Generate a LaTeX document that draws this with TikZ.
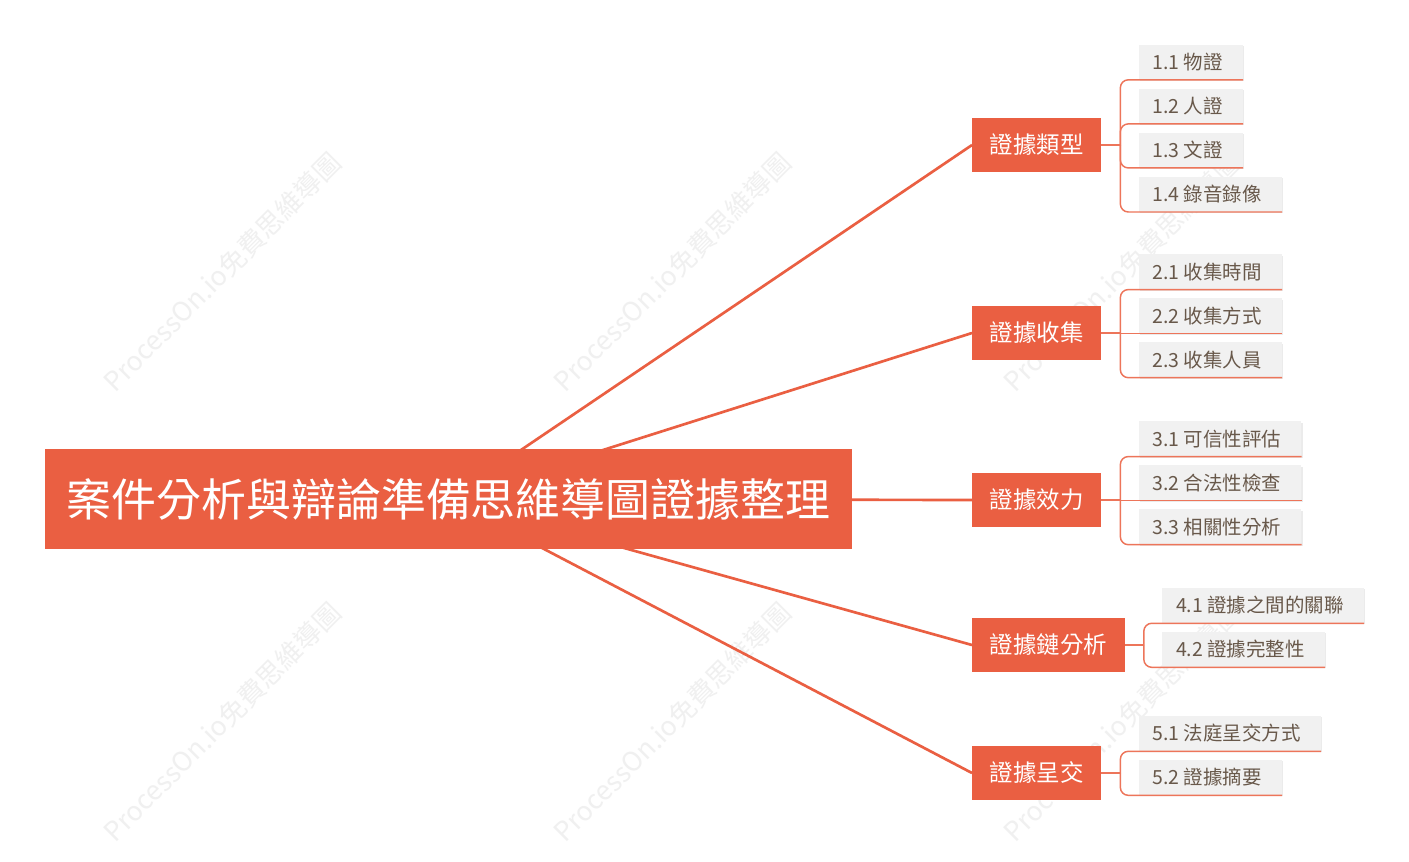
\documentclass[tikz,border=0pt]{standalone}
\usepackage{fontspec}
\setmainfont{Noto Sans CJK TC}
\usetikzlibrary{positioning,backgrounds,shadows}
\definecolor{mapred}{RGB}{234,95,66}
\definecolor{twigred}{RGB}{237,117,90}
\definecolor{leafgray}{RGB}{241,241,241}
\definecolor{leaftext}{RGB}{104,88,74}
\definecolor{stampgray}{RGB}{240,240,240}

\begin{document}
\begin{tikzpicture}[x=0.75pt,y=-0.75pt,node distance=6.4pt,
  root node/.style={fill=mapred,text=white,font=\fontsize{33.7}{40}\selectfont,inner xsep=16.5pt,inner ysep=0pt,minimum height=75pt,text height=29.7pt,text depth=4pt},
  topic node/.style={fill=mapred,text=white,font=\fontsize{17.6}{21}\selectfont,inner xsep=13.1pt,inner ysep=0pt,minimum height=40.5pt,text height=15.5pt,text depth=2.1pt,anchor=west},
  leaf node/.style={fill=leafgray,text=leaftext,font=\fontsize{14.6}{17}\selectfont,inner xsep=10.5pt,inner ysep=0pt,minimum height=26.25pt,text height=12.85pt,text depth=1.75pt,execute at end node={\hspace{4.5pt}},drop shadow={fill=black,opacity=.08,shadow xshift=1pt,shadow yshift=-1pt}},
  stamp text/.style={text=stampgray,font=\fontsize{20}{24}\selectfont,rotate=45},
  trunk/.style={draw=mapred,line width=2pt},
  twig/.style={draw=twigred,line width=1.1pt,rounded corners=6pt}]

 \begin{scope}[on background layer]
  \fill[white] (0,0) rectangle (1409,861);
  \foreach \x in {222,672,1122}
   \foreach \y in {272,722}
    \node[stamp text] (wm-\x-\y) at (\x,\y) {ProcessOn.io免費思維導圖};
 \end{scope}
 \useasboundingbox (0,0) rectangle (1409,861);

 \node[root node] (0) at (448.5,499) {案件分析與辯論準備思維導圖證據整理};

 \node[topic node] (1) at (972,145) {證據類型};
 \node[topic node] (2) at (972,333) {證據收集};
 \node[topic node] (3) at (972,500) {證據效力};
 \node[topic node] (4) at (972,645) {證據鏈分析};
 \node[topic node] (5) at (972,773) {證據呈交};

 \node[leaf node] (11) [above right=48.9pt and 27.75pt of 1.east] {1.1 物證};
 \node[leaf node] (12) [below=of 11.south west,anchor=north west] {1.2 人證};
 \node[leaf node] (13) [below=of 12.south west,anchor=north west] {1.3 文證};
 \node[leaf node] (14) [below=of 13.south west,anchor=north west] {1.4 錄音錄像};

 \node[leaf node] (21) [above right=32.6pt and 27.75pt of 2.east] {2.1 收集時間};
 \node[leaf node] (22) [below=of 21.south west,anchor=north west] {2.2 收集方式};
 \node[leaf node] (23) [below=of 22.south west,anchor=north west] {2.3 收集人員};

 \node[leaf node] (31) [above right=32.6pt and 27.75pt of 3.east] {3.1 可信性評估};
 \node[leaf node] (32) [below=of 31.south west,anchor=north west] {3.2 合法性檢查};
 \node[leaf node] (33) [below=of 32.south west,anchor=north west] {3.3 相關性分析};

 \node[leaf node] (41) [above right=16.3pt and 27.75pt of 4.east] {4.1 證據之間的關聯};
 \node[leaf node] (42) [below=of 41.south west,anchor=north west] {4.2 證據完整性};

 \node[leaf node] (51) [above right=16.3pt and 27.75pt of 5.east] {5.1 法庭呈交方式};
 \node[leaf node] (52) [below=of 51.south west,anchor=north west] {5.2 證據摘要};

 % junctions of the brackets
 \foreach \n in {1,...,5}
  \coordinate (j\n) at ([xshift=14.25pt]\n.east);

 \begin{scope}[on background layer]
  \foreach \n in {1,...,5}
   \draw[trunk] (0.center) -- (\n.west);
 \end{scope}

 \foreach \n in {1,...,5}
  \draw[twig] (\n.east) -- (j\n);
 \foreach \c in {11,12,13,14}
  \draw[twig] (j1) |- (\c.south west) -- (\c.south east);
 \foreach \c in {21,23}
  \draw[twig] (j2) |- (\c.south west) -- (\c.south east);
 \draw[twig,sharp corners] (j2) |- (22.south west) -- (22.south east);
 \foreach \c in {31,33}
  \draw[twig] (j3) |- (\c.south west) -- (\c.south east);
 \draw[twig,sharp corners] (j3) |- (32.south west) -- (32.south east);
 \foreach \c in {41,42}
  \draw[twig] (j4) |- (\c.south west) -- (\c.south east);
 \foreach \c in {51,52}
  \draw[twig] (j5) |- (\c.south west) -- (\c.south east);

\end{tikzpicture}
\end{document}
